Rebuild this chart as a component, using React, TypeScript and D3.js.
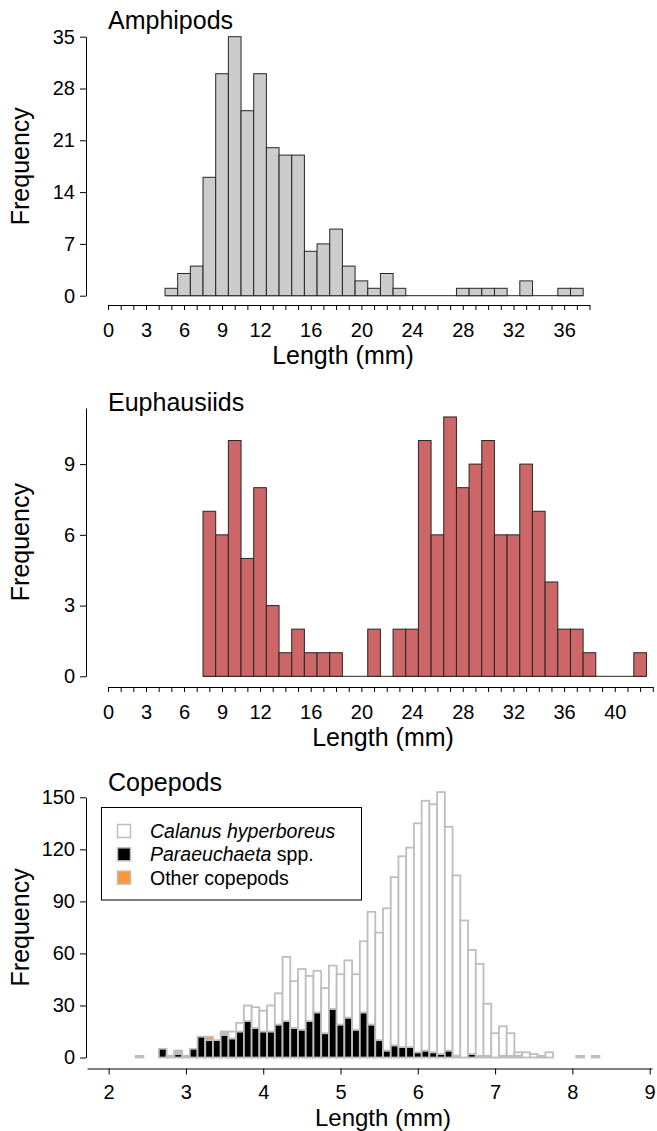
import React, { useRef, useEffect } from 'react';
import * as d3 from 'd3';

// Amphipods: 1 mm bins, centred on whole mm
const amphLengths = [5, 6, 7, 8, 9, 10, 11, 12, 13, 14, 15, 16, 17, 18, 19, 20, 21, 22, 23, 24, 25, 26, 27, 28, 29, 30, 31, 32, 33, 34, 35, 36, 37];
const amphCounts = [1, 3, 4, 16, 30, 35, 25, 30, 20, 19, 19, 6, 7, 9, 4, 2, 1, 3, 1, 0, 0, 0, 0, 1, 1, 1, 1, 0, 2, 0, 0, 1, 1];
const amphXLabels = [0, 3, 6, 9, 12, 16, 20, 24, 28, 32, 36];
const amphYTicks = [0, 7, 14, 21, 28, 35];

// Euphausiids
const euphLengths = [8, 9, 10, 11, 12, 13, 14, 15, 16, 17, 18, 19, 20, 21, 22, 23, 24, 25, 26, 27, 28, 29, 30, 31, 32, 33, 34, 35, 36, 37, 38, 39, 40, 41, 42];
const euphCounts = [7, 6, 10, 5, 8, 3, 1, 2, 1, 1, 1, 0, 0, 2, 0, 2, 2, 10, 6, 11, 8, 9, 10, 6, 6, 9, 7, 4, 2, 2, 1, 0, 0, 0, 1];
const euphXLabels = [0, 3, 6, 9, 12, 16, 20, 24, 28, 32, 36, 40];
const euphYTicks = [0, 3, 6, 9];

// Copepods: 0.1 mm bins, stacked Paraeuchaeta / other / Calanus
const copLengths = [2.4, 2.7, 2.8, 2.9, 3.0, 3.1, 3.2, 3.3, 3.4, 3.5, 3.6, 3.7, 3.8, 3.9, 4.0, 4.1, 4.2, 4.3, 4.4, 4.5, 4.6, 4.7, 4.8, 4.9, 5.0, 5.1, 5.2, 5.3, 5.4, 5.5, 5.6, 5.7, 5.8, 5.9, 6.0, 6.1, 6.2, 6.3, 6.4, 6.5, 6.6, 6.7, 6.8, 6.9, 7.0, 7.1, 7.2, 7.3, 7.4, 7.5, 7.6, 7.7, 8.1, 8.3];
const copPara = [0, 5, 1, 2, 1, 5, 12, 10, 10, 13, 11, 15, 21, 17, 15, 15, 19, 21, 17, 16, 21, 26, 14, 28, 19, 23, 16, 26, 19, 10, 4, 7, 6, 6, 3, 4, 3, 2, 4, 1, 0, 2, 1, 1, 0, 1, 1, 1, 0, 0, 0, 0, 0, 0];
const copOther = [0, 0, 0, 1, 0, 0, 0, 2, 0, 1, 0, 0, 0, 0, 0, 0, 0, 0, 0, 0, 0, 0, 0, 0, 0, 0, 0, 0, 0, 0, 0, 0, 0, 0, 0, 0, 0, 0, 0, 0, 0, 0, 0, 0, 0, 0, 0, 0, 0, 0, 0, 0, 0, 0];
const copCalanus = [1, 0, 0, 1, 0, 0, 0, 0, 0, 1, 4, 5, 9, 12, 12, 15, 18, 37, 27, 35, 26, 24, 26, 25, 29, 33, 32, 41, 65, 62, 82, 97, 110, 115, 132, 144, 143, 151, 129, 104, 79, 60, 53, 30, 14, 17, 13, 2, 3, 2, 1, 3, 1, 1];
const copXTicks = [2, 3, 4, 5, 6, 7, 8, 9];
const copYTicks = [0, 30, 60, 90, 120, 150];
const legendLabels = ['Calanus hyperboreus', 'Paraeuchaeta', 'Other copepods'];

const FONT = '"Liberation Sans", Arial, sans-serif';
const W = 657;
const H = 1131;

function styleAxis(g: any, size: number) {
  g.attr('font-size', null).attr('font-family', null);
  g.select('.domain').attr('stroke', '#000').attr('stroke-width', 1);
  g.selectAll('.tick line').attr('stroke', '#000').attr('stroke-width', 1);
  g.selectAll('.tick text')
    .attr('fill', '#000')
    .style('font-family', FONT)
    .style('font-size', size + 'px');
}

function App() {
  const ref = useRef<SVGSVGElement>(null);

  useEffect(() => {
    const svg = d3.select(ref.current);
    svg.selectAll('*').remove();

    const histPanel = (o: any) => {
      const g = svg.append('g');
      const x = d3.scaleLinear().domain(o.xDomain).range(o.xRange);
      const y = d3.scaleLinear().domain(o.yDomain).range(o.yRange);

      // empty bins show up as a flat line on the baseline
      g.append('line')
        .attr('x1', x(o.lengths[0] - 0.5))
        .attr('x2', x(o.lengths[o.lengths.length - 1] + 0.5))
        .attr('y1', y(0)).attr('y2', y(0))
        .attr('stroke', '#262626').attr('stroke-width', 1);

      g.selectAll('rect.bar')
        .data(o.lengths)
        .enter()
        .append('rect')
        .attr('x', (d: number) => x(d - 0.5))
        .attr('width', (d: number) => x(d + 0.5) - x(d - 0.5))
        .attr('y', (d: number, i: number) => y(o.counts[i]))
        .attr('height', (d: number, i: number) => y(0) - y(o.counts[i]))
        .attr('fill', o.fill)
        .attr('stroke', '#262626')
        .attr('stroke-width', 1);

      const xAxis = d3.axisBottom(x)
        .tickValues(d3.range(o.xDomain[0], o.xDomain[1] + 1))
        .tickSize(5)
        .tickSizeOuter(0)
        .tickPadding(13)
        .tickFormat((d: any) => (o.xLabels.includes(d) ? String(d) : ''));
      styleAxis(g.append('g').attr('transform', `translate(0,${o.axisY})`).call(xAxis), 20);

      const yAxis = d3.axisLeft(y).tickValues(o.yTicks).tickSize(6).tickSizeOuter(0).tickPadding(5);
      styleAxis(g.append('g').attr('transform', `translate(${o.axisX},0)`).call(yAxis), 20);

      g.append('text')
        .attr('x', 108).attr('y', o.titleY)
        .style('font-family', FONT).style('font-size', '25px')
        .text(o.title);
      g.append('text')
        .attr('x', o.xTitleX).attr('y', o.axisY + 59)
        .attr('text-anchor', 'middle')
        .style('font-family', FONT).style('font-size', '25px')
        .text('Length (mm)');
      const yMid = (y.range()[0] + y.range()[1]) / 2;
      g.append('text')
        .attr('transform', `translate(29,${yMid}) rotate(-90)`)
        .attr('text-anchor', 'middle')
        .style('font-family', FONT).style('font-size', '25px')
        .text('Frequency');
    };

    histPanel({
      title: 'Amphipods', titleY: 29,
      lengths: amphLengths, counts: amphCounts, fill: '#cccccc',
      xDomain: [0, 38], xRange: [108, 589.5], xLabels: amphXLabels,
      yDomain: [0, 35], yRange: [295.7, 36.7], yTicks: amphYTicks,
      axisY: 305, axisX: 86, xTitleX: 343,
    });

    histPanel({
      title: 'Euphausiids', titleY: 411,
      lengths: euphLengths, counts: euphCounts, fill: '#cd6666',
      xDomain: [0, 43], xRange: [108, 652.8], xLabels: euphXLabels,
      yDomain: [0, 11.38], yRange: [676.3, 408], yTicks: euphYTicks,
      axisY: 687, axisX: 86, xTitleX: 383,
    });

    // Copepods
    const g = svg.append('g');
    const x = d3.scaleLinear().domain([1.72, 9.03]).range([87, 652]);
    const y = d3.scaleLinear().domain([0, 150]).range([1057.5, 797.3]);
    const bw = 0.1;
    const grey = '#bebebe';
    const orange = '#f7983a';

    const stacks = copLengths.map((len, i) => {
      const a = copPara[i];
      const b = a + copOther[i];
      const c = b + copCalanus[i];
      return [
        { len, y0: 0, y1: a, fill: '#000000' },
        { len, y0: a, y1: b, fill: orange },
        { len, y0: b, y1: c, fill: '#ffffff' },
      ].filter((s) => s.y1 > s.y0);
    });
    const bars = g.selectAll('g.bin').data(stacks).enter().append('g');
    bars.selectAll('rect')
      .data((d: any) => d)
      .enter()
      .append('rect')
      .attr('x', (d: any) => x(d.len - bw / 2))
      .attr('width', (d: any) => x(d.len + bw / 2) - x(d.len - bw / 2))
      .attr('y', (d: any) => y(d.y1))
      .attr('height', (d: any) => y(d.y0) - y(d.y1))
      .attr('fill', (d: any) => d.fill)
      .attr('stroke', grey)
      .attr('stroke-width', 1.8);

    const cx = d3.axisBottom(x).tickValues(copXTicks).tickSize(6).tickSizeOuter(0).tickPadding(10);
    styleAxis(g.append('g').attr('transform', 'translate(0,1068.5)').call(cx), 20);
    const cy = d3.axisLeft(y).tickValues(copYTicks).tickSize(6).tickSizeOuter(0).tickPadding(5);
    styleAxis(g.append('g').attr('transform', 'translate(86,0)').call(cy), 20);

    g.append('text')
      .attr('x', 108).attr('y', 791)
      .style('font-family', FONT).style('font-size', '25px')
      .text('Copepods');
    g.append('text')
      .attr('x', 383).attr('y', 1126)
      .attr('text-anchor', 'middle')
      .style('font-family', FONT).style('font-size', '24px')
      .text('Length (mm)');
    g.append('text')
      .attr('transform', `translate(29,${(y.range()[0] + y.range()[1]) / 2}) rotate(-90)`)
      .attr('text-anchor', 'middle')
      .style('font-family', FONT).style('font-size', '25px')
      .text('Frequency');

    // Legend
    const lg = g.append('g');
    lg.append('rect')
      .attr('x', 101.5).attr('y', 807.5).attr('width', 260).attr('height', 92.5)
      .attr('fill', '#fff').attr('stroke', '#000').attr('stroke-width', 1);
    const keyFills = ['#ffffff', '#000000', orange];
    legendLabels.forEach((lab, i) => {
      const cyRow = 831 + i * 23.3;
      lg.append('rect')
        .attr('x', 117.5).attr('y', cyRow - 6.5).attr('width', 13).attr('height', 13)
        .attr('fill', keyFills[i]).attr('stroke', grey).attr('stroke-width', 1.5);
      const t = lg.append('text')
        .attr('x', 150).attr('y', cyRow + 7)
        .style('font-family', FONT).style('font-size', '19.5px');
      if (i === 0) {
        t.append('tspan').style('font-style', 'italic').text(lab);
      } else if (i === 1) {
        t.append('tspan').style('font-style', 'italic').text(lab);
        t.append('tspan').text(' spp.');
      } else {
        t.text(lab);
      }
    });
  }, []);

  return (
    <svg
      ref={ref}
      width={W}
      height={H}
      style={{ position: 'absolute', left: 0, top: 0, background: '#fff' }}
    />
  );
}

export default App;
